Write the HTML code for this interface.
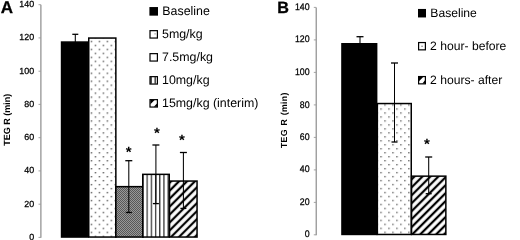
<!DOCTYPE html>
<html><head><meta charset="utf-8"><title>TEG R</title>
<style>
html,body{margin:0;padding:0;background:#fff;}
body{width:520px;height:240px;overflow:hidden;}
svg{display:block;}
text{font-family:"Liberation Sans",Arial,Helvetica,sans-serif;fill:#000;text-rendering:geometricPrecision;}
.tk{font-size:8.9px;text-anchor:end;stroke:#000;stroke-width:0.25px;}
.lg{font-size:12.4px;}
.pl{font-size:17px;font-weight:bold;stroke:#000;stroke-width:0.3px;}
.yl{font-size:9px;font-weight:bold;text-anchor:middle;}
.tkb{font-size:9.6px;text-anchor:end;stroke:#000;stroke-width:0.25px;}
.lgb{font-size:12.15px;}
.plb{font-size:16.2px;font-weight:bold;stroke:#000;stroke-width:0.3px;}
.ylb{font-size:8.8px;font-weight:bold;text-anchor:middle;word-spacing:0.85px;letter-spacing:0.3px;}
.st{font-size:15px;font-weight:bold;text-anchor:middle;}
</style></head><body>
<svg width="520" height="240" viewBox="0 0 520 240">
<defs>
<pattern id="dotA" patternUnits="userSpaceOnUse" width="7.95" height="7.955" x="90.75" y="40.75">
<rect width="7.95" height="7.955" fill="#fff"/>
<circle cx="0.75" cy="0.75" r="0.64" fill="#111"/>
<circle cx="4.73" cy="4.73" r="0.64" fill="#111"/>
</pattern>
<pattern id="dotB" patternUnits="userSpaceOnUse" width="7.96" height="7.955" x="380.3" y="108.3">
<rect width="7.96" height="7.955" fill="#fff"/>
<rect x="0" y="0" width="1.4" height="1.4" fill="#666"/>
<rect x="3.98" y="3.98" width="1.4" height="1.4" fill="#666"/>
</pattern>
<pattern id="chk" patternUnits="userSpaceOnUse" width="2" height="2">
<rect width="2" height="2" fill="#989898"/>
<rect x="0" y="0" width="1" height="1" fill="#585858"/>
<rect x="1" y="1" width="1" height="1" fill="#585858"/>
</pattern>
<pattern id="vst" patternUnits="userSpaceOnUse" width="4.2" height="8" x="146.5" y="0">
<rect width="4.2" height="8" fill="#fff"/>
<rect x="0" y="0" width="1.3" height="8" fill="#3a3a3a"/>
</pattern>
<pattern id="hatA" patternUnits="userSpaceOnUse" width="5.625" height="5.625" patternTransform="translate(170 190.3) rotate(45)">
<rect width="5.625" height="5.625" fill="#fff"/>
<rect x="-1.12" y="0" width="2.25" height="5.625" fill="#000"/>
<rect x="4.505" y="0" width="2.25" height="5.625" fill="#000"/>
</pattern>
<pattern id="hatB" patternUnits="userSpaceOnUse" width="5.625" height="5.625" patternTransform="translate(412 179.0) rotate(45)">
<rect width="5.625" height="5.625" fill="#fff"/>
<rect x="-1.12" y="0" width="2.25" height="5.625" fill="#000"/>
<rect x="4.505" y="0" width="2.25" height="5.625" fill="#000"/>
</pattern>
</defs>
<rect width="520" height="240" fill="#fff"/>

<text class="pl" x="0.8" y="13">A</text>
<line x1="40.9" y1="4.7" x2="40.9" y2="237.8" stroke="#828282" stroke-width="1.1"/>
<line x1="38.5" y1="237.4" x2="40.9" y2="237.4" stroke="#9a9a9a" stroke-width="0.9"/>
<text class="tk" transform="translate(34.1 240) scale(1.000 1)">0</text>
<line x1="38.5" y1="204.2" x2="40.9" y2="204.2" stroke="#9a9a9a" stroke-width="0.9"/>
<text class="tk" transform="translate(34.1 207) scale(1.000 1)">20</text>
<line x1="38.5" y1="170.9" x2="40.9" y2="170.9" stroke="#9a9a9a" stroke-width="0.9"/>
<text class="tk" transform="translate(34.1 173) scale(1.000 1)">40</text>
<line x1="38.5" y1="137.7" x2="40.9" y2="137.7" stroke="#9a9a9a" stroke-width="0.9"/>
<text class="tk" transform="translate(34.1 140) scale(1.000 1)">60</text>
<line x1="38.5" y1="104.4" x2="40.9" y2="104.4" stroke="#9a9a9a" stroke-width="0.9"/>
<text class="tk" transform="translate(34.1 107) scale(1.000 1)">80</text>
<line x1="38.5" y1="71.2" x2="40.9" y2="71.2" stroke="#9a9a9a" stroke-width="0.9"/>
<text class="tk" transform="translate(34.1 74) scale(1.000 1)">100</text>
<line x1="38.5" y1="37.9" x2="40.9" y2="37.9" stroke="#9a9a9a" stroke-width="0.9"/>
<text class="tk" transform="translate(34.1 40) scale(1.000 1)">120</text>
<line x1="38.5" y1="4.7" x2="40.9" y2="4.7" stroke="#9a9a9a" stroke-width="0.9"/>
<text class="tk" transform="translate(34.1 7) scale(1.000 1)">140</text>
<text class="yl" transform="translate(10 119.7) rotate(-90)">TEG R (min)</text>
<rect x="61.55" y="42.05" width="26.30" height="195.00" fill="#000" stroke="#000" stroke-width="1.5"/>
<line x1="75.3" y1="34.3" x2="75.3" y2="42.0" stroke="#000" stroke-width="1.05"/>
<line x1="72.3" y1="34.3" x2="78.3" y2="34.3" stroke="#000" stroke-width="1.3"/>
<rect x="88.75" y="38.05" width="27.10" height="199.00" fill="url(#dotA)" stroke="#000" stroke-width="1.5"/>
<rect x="115.85" y="186.65" width="27.20" height="50.40" fill="url(#chk)" stroke="#000" stroke-width="1.5"/>
<rect x="142.75" y="174.35" width="26.50" height="62.70" fill="url(#vst)" stroke="#000" stroke-width="1.5"/>
<rect x="169.55" y="181.05" width="27.50" height="56.00" fill="url(#hatA)" stroke="#000" stroke-width="1.5"/>
<line x1="128.8" y1="160.7" x2="128.8" y2="212.5" stroke="#000" stroke-width="1.05"/>
<line x1="125.30000000000001" y1="160.7" x2="132.3" y2="160.7" stroke="#000" stroke-width="1.3"/>
<line x1="125.80000000000001" y1="212.5" x2="131.8" y2="212.5" stroke="#000" stroke-width="1.3"/>
<line x1="155.9" y1="145.0" x2="155.9" y2="203.6" stroke="#000" stroke-width="1.05"/>
<line x1="152.4" y1="145.0" x2="159.4" y2="145.0" stroke="#000" stroke-width="1.3"/>
<line x1="152.9" y1="203.6" x2="158.9" y2="203.6" stroke="#000" stroke-width="1.3"/>
<line x1="183.4" y1="152.5" x2="183.4" y2="208.4" stroke="#000" stroke-width="1.05"/>
<line x1="179.9" y1="152.5" x2="186.9" y2="152.5" stroke="#000" stroke-width="1.3"/>
<line x1="180.4" y1="208.4" x2="186.4" y2="208.4" stroke="#000" stroke-width="1.3"/>
<text class="st" x="128.6" y="157">*</text>
<text class="st" x="156.8" y="138">*</text>
<text class="st" x="181.9" y="145">*</text>
<text class="lg" x="162.30" y="15">Baseline</text>
<rect x="149.4" y="7.05" width="8.6" height="8.6" fill="#000"/>
<text class="lg" x="162.00" y="38">5mg/kg</text>
<rect x="150.00" y="30.65" width="7.40" height="7.40" fill="#fff" stroke="#000" stroke-width="1.2"/>
<rect x="154.60" y="33.45" width="0.9" height="0.9" fill="#444"/>
<text class="lg" x="162.00" y="61">7.5mg/kg</text>
<rect x="150.00" y="53.65" width="7.40" height="7.40" fill="#fff" stroke="#000" stroke-width="1.2"/>
<text class="lg" x="162.00" y="84">10mg/kg</text>
<rect x="150.00" y="76.65" width="7.40" height="7.40" fill="#fff" stroke="#000" stroke-width="1.2"/>
<rect x="150.40" y="77.05" width="1.3" height="6.60" fill="#000"/>
<rect x="154.60" y="77.05" width="1.1" height="6.60" fill="#000"/>
<text class="lg" x="162.00" y="107">15mg/kg (interim)</text>
<rect x="150.00" y="99.65" width="7.40" height="7.40" fill="#fff" stroke="#000" stroke-width="1.2"/>
<path d="M150.40 100.05 L154.60 100.05 L150.40 104.25 Z" fill="#000"/>
<path d="M157.00 106.65 L157.00 103.45 L153.80 106.65 Z" fill="#000"/>
<text class="plb" x="277.3" y="13">B</text>
<line x1="316.2" y1="7.4" x2="316.2" y2="235.2" stroke="#828282" stroke-width="1.1"/>
<line x1="313.8" y1="234.8" x2="316.2" y2="234.8" stroke="#9a9a9a" stroke-width="0.9"/>
<text class="tkb" transform="translate(309.6 237) scale(0.917 1)">0</text>
<line x1="313.8" y1="202.4" x2="316.2" y2="202.4" stroke="#9a9a9a" stroke-width="0.9"/>
<text class="tkb" transform="translate(309.6 205) scale(0.917 1)">20</text>
<line x1="313.8" y1="169.9" x2="316.2" y2="169.9" stroke="#9a9a9a" stroke-width="0.9"/>
<text class="tkb" transform="translate(309.6 172) scale(0.917 1)">40</text>
<line x1="313.8" y1="137.4" x2="316.2" y2="137.4" stroke="#9a9a9a" stroke-width="0.9"/>
<text class="tkb" transform="translate(309.6 140) scale(0.917 1)">60</text>
<line x1="313.8" y1="104.9" x2="316.2" y2="104.9" stroke="#9a9a9a" stroke-width="0.9"/>
<text class="tkb" transform="translate(309.6 108) scale(0.917 1)">80</text>
<line x1="313.8" y1="72.4" x2="316.2" y2="72.4" stroke="#9a9a9a" stroke-width="0.9"/>
<text class="tkb" transform="translate(309.6 75) scale(0.917 1)">100</text>
<line x1="313.8" y1="39.9" x2="316.2" y2="39.9" stroke="#9a9a9a" stroke-width="0.9"/>
<text class="tkb" transform="translate(309.6 42) scale(0.917 1)">120</text>
<line x1="313.8" y1="7.4" x2="316.2" y2="7.4" stroke="#9a9a9a" stroke-width="0.9"/>
<text class="tkb" transform="translate(309.6 10) scale(0.917 1)">140</text>
<text class="ylb" transform="translate(287 120.2) rotate(-90)">TEG R (min)</text>
<rect x="341.95" y="43.75" width="34.70" height="190.70" fill="#000" stroke="#000" stroke-width="1.5"/>
<line x1="360" y1="36.7" x2="360" y2="44.0" stroke="#000" stroke-width="1.05"/>
<line x1="356.5" y1="36.7" x2="363.5" y2="36.7" stroke="#000" stroke-width="1.3"/>
<rect x="377.35" y="103.55" width="33.90" height="130.90" fill="url(#dotB)" stroke="#000" stroke-width="1.5"/>
<rect x="411.55" y="176.15" width="34.30" height="58.30" fill="url(#hatB)" stroke="#000" stroke-width="1.5"/>
<line x1="394.5" y1="63.0" x2="394.5" y2="142.0" stroke="#000" stroke-width="1.05"/>
<line x1="391.0" y1="63.0" x2="398.0" y2="63.0" stroke="#000" stroke-width="1.3"/>
<line x1="391.5" y1="142.0" x2="397.5" y2="142.0" stroke="#000" stroke-width="1.3"/>
<line x1="428.7" y1="157.0" x2="428.7" y2="193.7" stroke="#000" stroke-width="1.05"/>
<line x1="425.2" y1="157.0" x2="432.2" y2="157.0" stroke="#000" stroke-width="1.3"/>
<line x1="425.7" y1="193.7" x2="431.7" y2="193.7" stroke="#000" stroke-width="1.3"/>
<text class="st" x="427.0" y="149">*</text>
<text class="lgb" x="430.30" y="17">Baseline</text>
<rect x="418.0" y="8.95" width="8.0" height="8.5" fill="#000"/>
<text class="lgb" x="430.05" y="50">2 hour- before</text>
<rect x="418.60" y="42.55" width="6.80" height="7.30" fill="#fff" stroke="#000" stroke-width="1.2"/>
<rect x="421.50" y="45.70" width="1.1" height="1.1" fill="#444"/>
<text class="lgb" x="430.05" y="84">2 hours- after</text>
<rect x="418.60" y="76.55" width="6.80" height="7.30" fill="#fff" stroke="#000" stroke-width="1.2"/>
<path d="M419.00 76.95 L423.20 76.95 L419.00 81.15 Z" fill="#000"/>
<path d="M425.00 83.45 L425.00 80.35 L422.40 83.45 Z" fill="#000"/>
</svg></body></html>
